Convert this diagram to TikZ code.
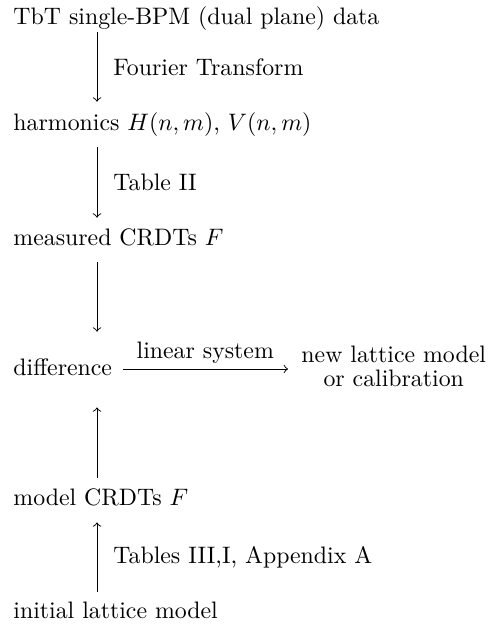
\documentclass[tikz,border=0pt]{standalone}
\usetikzlibrary{arrows, calc}
\tikzstyle{stage} = [anchor=base west, inner sep=0pt, text height=7.5pt, text depth=2.5pt]
\tikzstyle{result} = [anchor=west, inner sep=0pt, align=center, font=\fontsize{10}{10}\selectfont]
\tikzstyle{via} = [right, inner sep=0pt, xshift=6.7pt]
\tikzstyle{arrow} = [->,>=to]
\begin{document}
\begin{tikzpicture}[x=0.42pt, y=-0.42pt]
\useasboundingbox (0,0) rectangle (500,625);
\coordinate (col) at (97,0);
\node (tbt) [stage] at (13,24) {TbT single-BPM (dual plane) data};
\node (harm) [stage] at (13,130) {harmonics $H(n,m)$, $V(n,m)$};
\node (meas) [stage] at (13,245) {measured CRDTs $F$};
\node (diff) [stage] at (13,375) {difference};
\node (newmod) [result] at (301,366) {new lattice model\\or calibration};
\node (model) [stage] at (13,505) {model CRDTs $F$};
\node (init) [stage] at (13,618) {initial lattice model};
\draw [arrow] ($(tbt.south -| col)+(0,2)$) -- node[via]{Fourier Transform} ($(harm.north -| col)+(0,-10)$);
\draw [arrow] ($(harm.south -| col)+(0,11)$) -- node[via]{Table II} ($(meas.north -| col)+(0,-9)$);
\draw [arrow] ($(meas.south -| col)+(0,11)$) -- ($(diff.north -| col)+(0,-25)$);
\draw [arrow] ($(diff.base east)+(10,-6)$) -- node[above, inner sep=2pt]{linear system} ($(diff.base east -| newmod.west)+(-13,-6)$);
\draw [arrow] ($(model.north -| col)+(0,-9)$) -- ($(diff.south -| col)+(0,26)$);
\draw [arrow] ($(init.north -| col)+(0,-8)$) -- node[via]{Tables III,I, Appendix A} ($(model.south -| col)+(0,11)$);
\end{tikzpicture}
\end{document}
